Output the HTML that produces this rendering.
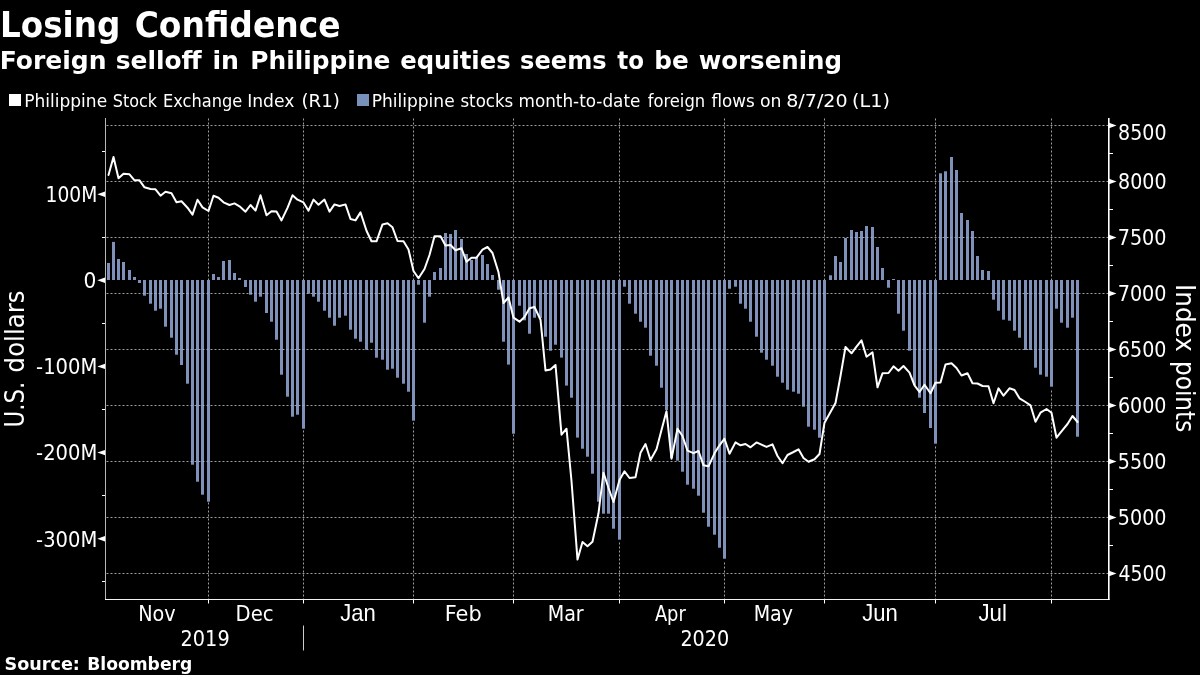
<!DOCTYPE html>
<html lang="en"><head><meta charset="utf-8"><title>Losing Confidence</title>
<style>html,body{margin:0;padding:0;background:#000;}body{width:1200px;height:675px;overflow:hidden;}svg{display:block;}text{fill:#fff;font-family:"DejaVu Sans","Liberation Sans",sans-serif;}.c{font-family:"DejaVu Sans Condensed","DejaVu Sans","Liberation Sans",sans-serif;}.l{font-family:"Liberation Sans","DejaVu Sans",sans-serif;}.b{font-weight:bold;}</style>
</head><body>
<svg width="1200" height="675" viewBox="0 0 1200 675">
<rect width="1200" height="675" fill="#000"/>
<text class="b" font-size="35.3" y="37.0"><tspan x="-0.00" textLength="120.28" lengthAdjust="spacingAndGlyphs">Losing</tspan> <tspan x="134.67" textLength="205.88" lengthAdjust="spacingAndGlyphs">Confidence</tspan></text>
<text class="b" font-size="25.2" y="68.8"><tspan x="-0.23" textLength="106.73" lengthAdjust="spacingAndGlyphs">Foreign</tspan> <tspan x="115.77" textLength="85.95" lengthAdjust="spacingAndGlyphs">selloff</tspan> <tspan x="212.38" textLength="26.58" lengthAdjust="spacingAndGlyphs">in</tspan> <tspan x="250.28" textLength="140.20" lengthAdjust="spacingAndGlyphs">Philippine</tspan> <tspan x="400.21" textLength="110.47" lengthAdjust="spacingAndGlyphs">equities</tspan> <tspan x="520.10" textLength="86.53" lengthAdjust="spacingAndGlyphs">seems</tspan> <tspan x="617.27" textLength="26.74" lengthAdjust="spacingAndGlyphs">to</tspan> <tspan x="654.21" textLength="34.52" lengthAdjust="spacingAndGlyphs">be</tspan> <tspan x="698.65" textLength="143.33" lengthAdjust="spacingAndGlyphs">worsening</tspan></text>
<rect x="9" y="94" width="12" height="12" fill="#fff"/>
<text font-size="17.1" y="107.0"><tspan x="24.18" textLength="82.96" lengthAdjust="spacingAndGlyphs">Philippine</tspan> <tspan x="112.75" textLength="44.33" lengthAdjust="spacingAndGlyphs">Stock</tspan> <tspan x="162.96" textLength="79.22" lengthAdjust="spacingAndGlyphs">Exchange</tspan> <tspan x="247.17" textLength="47.21" lengthAdjust="spacingAndGlyphs">Index</tspan> <tspan x="301.40" textLength="38.47" lengthAdjust="spacingAndGlyphs">(R1)</tspan></text>
<rect x="357" y="94" width="12" height="12" fill="#7891bb"/>
<text font-size="17.1" y="107.0"><tspan x="371.68" textLength="82.96" lengthAdjust="spacingAndGlyphs">Philippine</tspan> <tspan x="460.45" textLength="52.82" lengthAdjust="spacingAndGlyphs">stocks</tspan> <tspan x="518.52" textLength="121.84" lengthAdjust="spacingAndGlyphs">month-to-date</tspan> <tspan x="647.64" textLength="57.57" lengthAdjust="spacingAndGlyphs">foreign</tspan> <tspan x="711.43" textLength="43.23" lengthAdjust="spacingAndGlyphs">flows</tspan> <tspan x="759.92" textLength="21.53" lengthAdjust="spacingAndGlyphs">on</tspan> <tspan x="786.25" textLength="61.35" lengthAdjust="spacingAndGlyphs">8/7/20</tspan> <tspan x="852.12" textLength="37.87" lengthAdjust="spacingAndGlyphs">(L1)</tspan></text>
<g stroke="#fff" stroke-opacity="0.62" stroke-width="1" stroke-dasharray="2 2" fill="none">
<path d="M208.5 118.5V280M208.5 502.5V599"/>
<path d="M303.5 118.5V280M303.5 430.5V599"/>
<path d="M413.5 118.5V280M413.5 422.5V599"/>
<path d="M513.5 118.5V280M513.5 434.5V599"/>
<path d="M619.5 118.5V280M619.5 542.5V599"/>
<path d="M724.5 118.5V280M724.5 562.5V599"/>
<path d="M824.5 118.5V280M824.5 422.5V599"/>
<path d="M935.5 118.5V280M935.5 446.5V599"/>
<path d="M1051.5 118.5V280M1051.5 390.5V599"/>
<path d="M106.5 125.5H1108"/>
<path d="M106.5 181.5H1108"/>
<path d="M106.5 237.5H1108"/>
<path d="M106.5 293.5H1108"/>
<path d="M106.5 349.5H1108"/>
<path d="M106.5 405.5H1108"/>
<path d="M106.5 461.5H1108"/>
<path d="M106.5 517.5H1108"/>
<path d="M106.5 573.5H1108"/>
</g>
<g fill="#9bb1e0" fill-opacity="0.82">
<rect x="107" y="263.0" width="3" height="17.0"/>
<rect x="112" y="241.9" width="3" height="38.1"/>
<rect x="117" y="259.0" width="3" height="21.0"/>
<rect x="122" y="262.0" width="3" height="18.0"/>
<rect x="128" y="270.0" width="3" height="10.0"/>
<rect x="133" y="277.0" width="3" height="3.0"/>
<rect x="138" y="280.0" width="3" height="3.0"/>
<rect x="143" y="280.0" width="3" height="15.7"/>
<rect x="149" y="280.0" width="3" height="23.7"/>
<rect x="154" y="280.0" width="3" height="30.7"/>
<rect x="159" y="280.0" width="3" height="28.7"/>
<rect x="164" y="280.0" width="3" height="46.7"/>
<rect x="170" y="280.0" width="3" height="57.7"/>
<rect x="175" y="280.0" width="3" height="74.7"/>
<rect x="180" y="280.0" width="3" height="85.0"/>
<rect x="186" y="280.0" width="3" height="103.7"/>
<rect x="191" y="280.0" width="3" height="184.7"/>
<rect x="196" y="280.0" width="3" height="201.7"/>
<rect x="201" y="280.0" width="3" height="214.7"/>
<rect x="207" y="280.0" width="3" height="221.7"/>
<rect x="212" y="274.0" width="3" height="6.0"/>
<rect x="217" y="277.0" width="3" height="3.0"/>
<rect x="222" y="261.0" width="3" height="19.0"/>
<rect x="228" y="260.0" width="3" height="20.0"/>
<rect x="233" y="273.0" width="3" height="7.0"/>
<rect x="238" y="278.0" width="3" height="2.0"/>
<rect x="244" y="280.0" width="3" height="7.0"/>
<rect x="249" y="280.0" width="3" height="14.7"/>
<rect x="254" y="280.0" width="3" height="21.7"/>
<rect x="259" y="280.0" width="3" height="16.7"/>
<rect x="265" y="280.0" width="3" height="33.0"/>
<rect x="270" y="280.0" width="3" height="41.7"/>
<rect x="275" y="280.0" width="3" height="59.7"/>
<rect x="280" y="280.0" width="3" height="94.7"/>
<rect x="286" y="280.0" width="3" height="116.7"/>
<rect x="291" y="280.0" width="3" height="136.7"/>
<rect x="296" y="280.0" width="3" height="134.7"/>
<rect x="302" y="280.0" width="3" height="148.7"/>
<rect x="307" y="280.0" width="3" height="13.7"/>
<rect x="312" y="280.0" width="3" height="16.7"/>
<rect x="317" y="280.0" width="3" height="21.7"/>
<rect x="323" y="280.0" width="3" height="30.7"/>
<rect x="328" y="280.0" width="3" height="37.7"/>
<rect x="333" y="280.0" width="3" height="45.7"/>
<rect x="338" y="280.0" width="3" height="37.7"/>
<rect x="344" y="280.0" width="3" height="35.7"/>
<rect x="349" y="280.0" width="3" height="49.7"/>
<rect x="354" y="280.0" width="3" height="58.7"/>
<rect x="359" y="280.0" width="3" height="61.7"/>
<rect x="365" y="280.0" width="3" height="69.7"/>
<rect x="370" y="280.0" width="3" height="62.7"/>
<rect x="375" y="280.0" width="3" height="77.7"/>
<rect x="381" y="280.0" width="3" height="79.7"/>
<rect x="386" y="280.0" width="3" height="89.7"/>
<rect x="391" y="280.0" width="3" height="88.7"/>
<rect x="396" y="280.0" width="3" height="97.7"/>
<rect x="402" y="280.0" width="3" height="103.7"/>
<rect x="407" y="280.0" width="3" height="111.7"/>
<rect x="412" y="280.0" width="3" height="140.7"/>
<rect x="417" y="280.0" width="3" height="4.7"/>
<rect x="423" y="280.0" width="3" height="42.7"/>
<rect x="428" y="280.0" width="3" height="16.7"/>
<rect x="433" y="272.0" width="3" height="8.0"/>
<rect x="439" y="268.0" width="3" height="12.0"/>
<rect x="444" y="233.0" width="3" height="47.0"/>
<rect x="449" y="234.0" width="3" height="46.0"/>
<rect x="454" y="230.0" width="3" height="50.0"/>
<rect x="460" y="239.0" width="3" height="41.0"/>
<rect x="465" y="254.0" width="3" height="26.0"/>
<rect x="470" y="260.0" width="3" height="20.0"/>
<rect x="475" y="257.0" width="3" height="23.0"/>
<rect x="481" y="255.0" width="3" height="25.0"/>
<rect x="486" y="264.0" width="3" height="16.0"/>
<rect x="491" y="275.0" width="3" height="5.0"/>
<rect x="497" y="280.0" width="3" height="9.7"/>
<rect x="502" y="280.0" width="3" height="61.7"/>
<rect x="507" y="280.0" width="3" height="84.6"/>
<rect x="512" y="280.0" width="3" height="153.7"/>
<rect x="518" y="280.0" width="3" height="25.7"/>
<rect x="523" y="280.0" width="3" height="40.3"/>
<rect x="528" y="280.0" width="3" height="53.7"/>
<rect x="533" y="280.0" width="3" height="37.7"/>
<rect x="539" y="280.0" width="3" height="38.0"/>
<rect x="544" y="280.0" width="3" height="56.7"/>
<rect x="549" y="280.0" width="3" height="70.7"/>
<rect x="554" y="280.0" width="3" height="64.7"/>
<rect x="560" y="280.0" width="3" height="77.6"/>
<rect x="565" y="280.0" width="3" height="105.6"/>
<rect x="570" y="280.0" width="3" height="117.7"/>
<rect x="576" y="280.0" width="3" height="157.6"/>
<rect x="581" y="280.0" width="3" height="168.7"/>
<rect x="586" y="280.0" width="3" height="176.7"/>
<rect x="591" y="280.0" width="3" height="193.7"/>
<rect x="597" y="280.0" width="3" height="221.7"/>
<rect x="602" y="280.0" width="3" height="233.7"/>
<rect x="607" y="280.0" width="3" height="233.7"/>
<rect x="612" y="280.0" width="3" height="248.7"/>
<rect x="618" y="280.0" width="3" height="259.7"/>
<rect x="623" y="280.0" width="3" height="6.7"/>
<rect x="628" y="280.0" width="3" height="23.7"/>
<rect x="634" y="280.0" width="3" height="33.7"/>
<rect x="639" y="280.0" width="3" height="41.7"/>
<rect x="644" y="280.0" width="3" height="47.7"/>
<rect x="649" y="280.0" width="3" height="75.7"/>
<rect x="655" y="280.0" width="3" height="85.7"/>
<rect x="660" y="280.0" width="3" height="107.7"/>
<rect x="665" y="280.0" width="3" height="130.0"/>
<rect x="670" y="280.0" width="3" height="178.0"/>
<rect x="676" y="280.0" width="3" height="180.7"/>
<rect x="681" y="280.0" width="3" height="191.7"/>
<rect x="686" y="280.0" width="3" height="204.7"/>
<rect x="692" y="280.0" width="3" height="208.7"/>
<rect x="697" y="280.0" width="3" height="215.7"/>
<rect x="702" y="280.0" width="3" height="232.7"/>
<rect x="707" y="280.0" width="3" height="246.7"/>
<rect x="713" y="280.0" width="3" height="254.7"/>
<rect x="718" y="280.0" width="3" height="267.7"/>
<rect x="723" y="280.0" width="3" height="278.7"/>
<rect x="728" y="280.0" width="3" height="8.7"/>
<rect x="734" y="280.0" width="3" height="6.7"/>
<rect x="739" y="280.0" width="3" height="23.7"/>
<rect x="744" y="280.0" width="3" height="28.7"/>
<rect x="749" y="280.0" width="3" height="41.7"/>
<rect x="755" y="280.0" width="3" height="56.7"/>
<rect x="760" y="280.0" width="3" height="72.7"/>
<rect x="765" y="280.0" width="3" height="79.7"/>
<rect x="771" y="280.0" width="3" height="85.7"/>
<rect x="776" y="280.0" width="3" height="96.7"/>
<rect x="781" y="280.0" width="3" height="102.7"/>
<rect x="786" y="280.0" width="3" height="109.7"/>
<rect x="792" y="280.0" width="3" height="111.7"/>
<rect x="797" y="280.0" width="3" height="113.7"/>
<rect x="802" y="280.0" width="3" height="126.7"/>
<rect x="807" y="280.0" width="3" height="146.7"/>
<rect x="813" y="280.0" width="3" height="149.7"/>
<rect x="818" y="280.0" width="3" height="157.7"/>
<rect x="823" y="280.0" width="3" height="140.0"/>
<rect x="829" y="275.3" width="3" height="4.7"/>
<rect x="834" y="256.0" width="3" height="24.0"/>
<rect x="839" y="262.0" width="3" height="18.0"/>
<rect x="844" y="238.0" width="3" height="42.0"/>
<rect x="850" y="230.0" width="3" height="50.0"/>
<rect x="855" y="232.0" width="3" height="48.0"/>
<rect x="860" y="231.0" width="3" height="49.0"/>
<rect x="865" y="226.0" width="3" height="54.0"/>
<rect x="871" y="227.0" width="3" height="53.0"/>
<rect x="876" y="247.0" width="3" height="33.0"/>
<rect x="881" y="268.0" width="3" height="12.0"/>
<rect x="887" y="280.0" width="3" height="7.7"/>
<rect x="892" y="279.0" width="3" height="1.0"/>
<rect x="897" y="280.0" width="3" height="33.7"/>
<rect x="902" y="280.0" width="3" height="50.7"/>
<rect x="908" y="280.0" width="3" height="70.7"/>
<rect x="913" y="280.0" width="3" height="105.0"/>
<rect x="918" y="280.0" width="3" height="117.7"/>
<rect x="923" y="280.0" width="3" height="133.0"/>
<rect x="929" y="280.0" width="3" height="148.0"/>
<rect x="934" y="280.0" width="3" height="163.7"/>
<rect x="939" y="173.3" width="3" height="106.7"/>
<rect x="944" y="171.3" width="3" height="108.7"/>
<rect x="950" y="157.0" width="3" height="123.0"/>
<rect x="955" y="170.0" width="3" height="110.0"/>
<rect x="960" y="213.0" width="3" height="67.0"/>
<rect x="966" y="220.0" width="3" height="60.0"/>
<rect x="971" y="231.0" width="3" height="49.0"/>
<rect x="976" y="256.0" width="3" height="24.0"/>
<rect x="981" y="270.0" width="3" height="10.0"/>
<rect x="987" y="271.0" width="3" height="9.0"/>
<rect x="992" y="280.0" width="3" height="19.7"/>
<rect x="997" y="280.0" width="3" height="30.7"/>
<rect x="1002" y="280.0" width="3" height="39.7"/>
<rect x="1008" y="280.0" width="3" height="40.7"/>
<rect x="1013" y="280.0" width="3" height="50.7"/>
<rect x="1018" y="280.0" width="3" height="57.7"/>
<rect x="1024" y="280.0" width="3" height="70.0"/>
<rect x="1029" y="280.0" width="3" height="70.0"/>
<rect x="1034" y="280.0" width="3" height="87.7"/>
<rect x="1039" y="280.0" width="3" height="94.7"/>
<rect x="1045" y="280.0" width="3" height="96.7"/>
<rect x="1050" y="280.0" width="3" height="106.7"/>
<rect x="1055" y="280.0" width="3" height="28.7"/>
<rect x="1060" y="280.0" width="3" height="42.7"/>
<rect x="1066" y="280.0" width="3" height="47.7"/>
<rect x="1071" y="280.0" width="3" height="37.7"/>
<rect x="1076" y="280.0" width="3" height="156.7"/>
</g>
<polyline points="108.5,175.0 113.5,157.0 118.5,178.3 123.5,173.7 129.5,174.3 134.5,180.3 139.5,180.3 144.5,187.3 150.5,189.0 155.5,189.3 160.5,195.7 165.5,191.7 171.5,193.3 176.5,202.3 181.5,201.3 187.5,207.7 192.5,214.6 197.5,199.7 202.5,207.4 208.5,211.0 213.5,195.7 218.5,197.7 223.5,202.3 229.5,205.0 234.5,203.4 239.5,206.3 245.5,211.7 250.5,205.0 255.5,210.6 260.5,195.3 266.5,215.3 271.5,211.3 276.5,211.6 281.5,220.4 287.5,207.9 292.5,195.3 297.5,199.7 303.5,202.4 308.5,210.7 313.5,199.6 318.5,204.7 324.5,199.6 329.5,211.6 334.5,204.4 339.5,206.0 345.5,204.4 350.5,219.0 355.5,220.4 360.5,212.4 366.5,230.7 371.5,241.3 376.5,241.3 382.5,224.4 387.5,223.3 392.5,227.3 397.5,241.0 403.5,241.3 408.5,249.5 413.5,271.0 418.5,278.3 424.5,269.0 429.5,255.0 434.5,236.3 440.5,236.3 445.5,245.4 450.5,245.0 455.5,250.3 461.5,248.3 466.5,261.7 471.5,257.7 476.5,257.7 482.5,249.7 487.5,247.0 492.5,253.0 498.5,272.3 503.5,303.0 508.5,297.5 513.5,317.7 519.5,321.7 524.5,317.0 529.5,308.3 534.5,307.0 540.5,319.7 545.5,370.5 550.5,369.5 555.5,365.0 561.5,434.7 566.5,428.7 571.5,481.0 577.5,559.6 582.5,542.0 587.5,546.3 592.5,541.7 598.5,513.3 603.5,472.7 608.5,488.0 613.5,502.0 619.5,480.0 624.5,471.3 629.5,478.0 635.5,477.3 640.5,452.7 645.5,444.0 650.5,460.0 656.5,449.3 661.5,430.0 666.5,411.3 671.5,458.7 677.5,428.7 682.5,436.0 687.5,450.7 693.5,453.2 698.5,451.0 703.5,465.3 708.5,466.3 714.5,453.3 719.5,445.3 724.5,438.7 729.5,453.7 735.5,442.4 740.5,445.3 745.5,444.0 750.5,447.3 756.5,442.4 761.5,444.7 766.5,446.9 772.5,444.4 777.5,456.0 782.5,463.3 787.5,455.0 793.5,452.0 798.5,449.3 803.5,458.0 808.5,461.7 814.5,459.3 819.5,454.0 824.5,422.7 830.5,412.0 835.5,403.0 840.5,376.0 845.5,347.0 851.5,353.3 856.5,346.7 861.5,340.4 866.5,356.7 872.5,352.4 877.5,387.3 882.5,373.3 888.5,373.0 893.5,366.3 898.5,370.7 903.5,366.0 909.5,372.7 914.5,385.3 919.5,392.0 924.5,384.7 930.5,393.3 935.5,382.7 940.5,382.4 945.5,364.4 951.5,363.2 956.5,368.0 961.5,375.5 967.5,373.3 972.5,383.2 977.5,383.5 982.5,386.0 988.5,386.3 993.5,403.3 998.5,388.4 1003.5,395.7 1009.5,388.3 1014.5,390.0 1019.5,398.3 1025.5,402.0 1030.5,405.3 1035.5,421.7 1040.5,412.7 1046.5,409.0 1051.5,412.7 1056.5,437.7 1061.5,431.3 1067.5,424.0 1072.5,416.0 1077.5,422.0" fill="none" stroke="#fff" stroke-width="2" stroke-linejoin="round" stroke-linecap="round"/>
<g stroke="#fff" fill="none">
<path d="M105.5 118V600" stroke-width="1" stroke-opacity="0.72"/>
<path d="M105 599.5H1109.5" stroke-width="1" stroke-opacity="0.95"/>
<path d="M1108.8 118V600" stroke-width="1.6"/>
<path d="M102 151.5H105"/>
<path d="M102 237.5H105"/>
<path d="M102 323.5H105"/>
<path d="M102 409.5H105"/>
<path d="M102 495.5H105"/>
<path d="M102 581.5H105"/>
<path d="M1109 153.5H1113"/>
<path d="M1109 209.5H1113"/>
<path d="M1109 265.5H1113"/>
<path d="M1109 321.5H1113"/>
<path d="M1109 377.5H1113"/>
<path d="M1109 433.5H1113"/>
<path d="M1109 489.5H1113"/>
<path d="M1109 545.5H1113"/>
<path d="M208.5 600V603.5"/>
<path d="M303.5 600V603.5"/>
<path d="M413.5 600V603.5"/>
<path d="M513.5 600V603.5"/>
<path d="M619.5 600V603.5"/>
<path d="M724.5 600V603.5"/>
<path d="M824.5 600V603.5"/>
<path d="M935.5 600V603.5"/>
<path d="M1051.5 600V603.5"/>
<path d="M303.5 625.5V650.5" stroke-opacity="0.8"/>
</g>
<g fill="#fff">
<path d="M105 191.5L97.3 194.2L105 196.9Z"/>
<path d="M105 277.6L97.3 280.3L105 283.0Z"/>
<path d="M105 363.7L97.3 366.4L105 369.1Z"/>
<path d="M105 449.9L97.3 452.6L105 455.3Z"/>
<path d="M105 536.1L97.3 538.8L105 541.5Z"/>
<path d="M1109 122.8L1116.5 125.5L1109 128.2Z"/>
<path d="M1109 178.8L1116.5 181.5L1109 184.2Z"/>
<path d="M1109 234.8L1116.5 237.5L1109 240.2Z"/>
<path d="M1109 290.8L1116.5 293.5L1109 296.2Z"/>
<path d="M1109 346.8L1116.5 349.5L1109 352.2Z"/>
<path d="M1109 402.8L1116.5 405.5L1109 408.2Z"/>
<path d="M1109 458.8L1116.5 461.5L1109 464.2Z"/>
<path d="M1109 514.8L1116.5 517.5L1109 520.2Z"/>
<path d="M1109 570.8L1116.5 573.5L1109 576.2Z"/>
</g>
<text class="b" font-size="17.1" y="669.7"><tspan x="4.51" textLength="75.41" lengthAdjust="spacingAndGlyphs">Source:</tspan> <tspan x="87.19" textLength="105.08" lengthAdjust="spacingAndGlyphs">Bloomberg</tspan></text>
<text class="c" font-size="21.5" y="201.9"><tspan x="45.55" textLength="51.74" lengthAdjust="spacingAndGlyphs">100M</tspan></text>
<text class="c" font-size="21.5" y="288.0"><tspan x="83.49" textLength="12.87" lengthAdjust="spacingAndGlyphs">0</tspan></text>
<text class="c" font-size="21.5" y="374.1"><tspan x="36.12" textLength="61.24" lengthAdjust="spacingAndGlyphs">-100M</tspan></text>
<text class="c" font-size="21.5" y="460.3"><tspan x="36.12" textLength="61.24" lengthAdjust="spacingAndGlyphs">-200M</tspan></text>
<text class="c" font-size="21.5" y="546.5"><tspan x="36.12" textLength="61.24" lengthAdjust="spacingAndGlyphs">-300M</tspan></text>
<text class="c" font-size="21.5" y="140.3"><tspan x="1118.07" textLength="48.43" lengthAdjust="spacingAndGlyphs">8500</tspan></text>
<text class="c" font-size="21.5" y="189.3"><tspan x="1118.07" textLength="48.43" lengthAdjust="spacingAndGlyphs">8000</tspan></text>
<text class="c" font-size="21.5" y="245.3"><tspan x="1117.69" textLength="48.82" lengthAdjust="spacingAndGlyphs">7500</tspan></text>
<text class="c" font-size="21.5" y="301.3"><tspan x="1117.69" textLength="48.82" lengthAdjust="spacingAndGlyphs">7000</tspan></text>
<text class="c" font-size="21.5" y="357.3"><tspan x="1117.94" textLength="48.56" lengthAdjust="spacingAndGlyphs">6500</tspan></text>
<text class="c" font-size="21.5" y="413.3"><tspan x="1117.94" textLength="48.56" lengthAdjust="spacingAndGlyphs">6000</tspan></text>
<text class="c" font-size="21.5" y="469.3"><tspan x="1117.82" textLength="48.69" lengthAdjust="spacingAndGlyphs">5500</tspan></text>
<text class="c" font-size="21.5" y="525.3"><tspan x="1117.82" textLength="48.69" lengthAdjust="spacingAndGlyphs">5000</tspan></text>
<text class="c" font-size="21.5" y="581.3"><tspan x="1118.45" textLength="48.04" lengthAdjust="spacingAndGlyphs">4500</tspan></text>
<text class="c" font-size="20.5" y="620.6"><tspan x="138.18" textLength="37.46" lengthAdjust="spacingAndGlyphs">Nov</tspan></text>
<text class="c" font-size="20.5" y="620.6"><tspan x="235.64" textLength="38.00" lengthAdjust="spacingAndGlyphs">Dec</tspan></text>
<text class="l" font-size="23.2" y="620.9"><tspan x="340.14" textLength="35.61" lengthAdjust="spacingAndGlyphs">Jan</tspan></text>
<text class="c" font-size="20.5" y="620.6"><tspan x="444.82" textLength="36.87" lengthAdjust="spacingAndGlyphs">Feb</tspan></text>
<text class="c" font-size="20.5" y="620.6"><tspan x="547.69" textLength="36.03" lengthAdjust="spacingAndGlyphs">Mar</tspan></text>
<text class="c" font-size="20.5" y="620.6"><tspan x="654.88" textLength="30.95" lengthAdjust="spacingAndGlyphs">Apr</tspan></text>
<text class="c" font-size="20.5" y="620.6"><tspan x="753.70" textLength="39.32" lengthAdjust="spacingAndGlyphs">May</tspan></text>
<text class="l" font-size="23.2" y="620.9"><tspan x="862.14" textLength="35.61" lengthAdjust="spacingAndGlyphs">Jun</tspan></text>
<text class="l" font-size="23.2" y="620.9"><tspan x="978.44" textLength="28.53" lengthAdjust="spacingAndGlyphs">Jul</tspan></text>
<text class="c" font-size="21.0" y="645.6"><tspan x="180.60" textLength="49.05" lengthAdjust="spacingAndGlyphs">2019</tspan></text>
<text class="c" font-size="21.0" y="645.6"><tspan x="680.40" textLength="48.81" lengthAdjust="spacingAndGlyphs">2020</tspan></text>
<text class="c" font-size="26.2" transform="translate(24.3 430) rotate(-90)" y="0"><tspan x="2.45" textLength="45.92" lengthAdjust="spacingAndGlyphs">U.S.</tspan> <tspan x="57.60" textLength="81.88" lengthAdjust="spacingAndGlyphs">dollars</tspan></text>
<text class="c" font-size="26.5" transform="translate(1175.6 280) rotate(90)" y="0"><tspan x="3.94" textLength="68.04" lengthAdjust="spacingAndGlyphs">Index</tspan> <tspan x="80.93" textLength="71.34" lengthAdjust="spacingAndGlyphs">points</tspan></text>
</svg>
</body></html>
